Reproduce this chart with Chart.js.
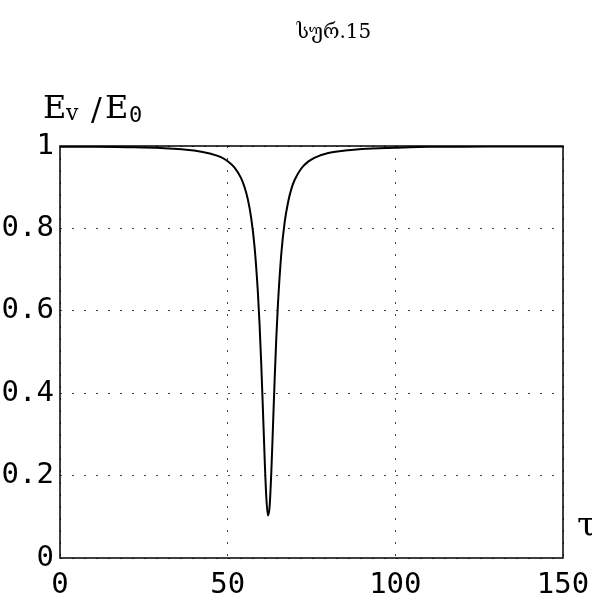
<!DOCTYPE html>
<html>
<head>
<meta charset="utf-8">
<script src="https://cdn.jsdelivr.net/npm/chart.js@4/dist/chart.umd.min.js"></script>
<style>
  html, body { margin: 0; padding: 0; background: #fff; }
  #wrap { width: 592px; height: 600px; position: relative; }
</style>
</head>
<body>
<div id="wrap"><canvas id="grafico"></canvas></div>
<script>
// valores (tau, Ev/E0)
const tau = [0, 10, 20, 30, 40, 45, 48, 50, 52, 54, 55, 56, 57, 58, 59, 59.5, 60, 60.5, 61, 61.5, 62, 62.5, 63, 63.5, 64, 64.5, 65, 66, 67, 68, 69, 70, 72, 74, 76, 80, 85, 90, 100, 110, 120, 135, 150];
const razao = [0.998, 0.998, 0.997, 0.995, 0.989, 0.981, 0.973, 0.963, 0.948, 0.922, 0.901, 0.871, 0.826, 0.757, 0.646, 0.569, 0.474, 0.363, 0.248, 0.151, 0.103, 0.124, 0.205, 0.316, 0.431, 0.533, 0.617, 0.739, 0.815, 0.863, 0.896, 0.918, 0.946, 0.962, 0.972, 0.983, 0.989, 0.993, 0.996, 0.998, 0.998, 0.999, 0.999];

const xTicks = [0, 50, 100, 150];
const yTicks = [0, 0.2, 0.4, 0.6, 0.8, 1];

const titulo = "სურ.15";

const pontos = tau.map((t, i) => ({ x: t, y: razao[i] }));

const serifa = "'DejaVu Serif', serif";

// moldura + textos
const extras = {
  id: "extras",
  afterDraw(chart) {
    const ctx = chart.ctx;
    const a = chart.chartArea;
    ctx.save();
    ctx.strokeStyle = "#000";
    ctx.lineWidth = 1.5;
    ctx.strokeRect(a.left, a.top, a.right - a.left, a.bottom - a.top);

    ctx.fillStyle = "#000";
    ctx.textBaseline = "alphabetic";

    ctx.font = "20px " + serifa;
    ctx.textAlign = "center";
    ctx.fillText(titulo, 334, 38);

    ctx.textAlign = "left";
    ctx.font = "32px " + serifa;
    ctx.fillText("E", 43, 118);
    ctx.font = "22px " + serifa;
    ctx.fillText("v", 66, 120);
    ctx.font = "32px " + serifa;
    ctx.fillText("/", 91, 120);
    ctx.fillText("E", 105, 118);
    ctx.font = "22px 'DejaVu Sans Mono'";
    ctx.fillText("0", 129, 122);

    ctx.font = "34px " + serifa;
    ctx.fillText("τ", 577, 536);
    ctx.restore();
  }
};

function desenhar() {
  new Chart(document.getElementById("grafico"), {
    type: "line",
    data: {
      datasets: [{
        data: pontos,
        borderColor: "#000",
        borderWidth: 2,
        pointRadius: 0,
        fill: false,
        cubicInterpolationMode: "monotone"
      }]
    },
    options: {
      responsive: true,
      maintainAspectRatio: false,
      animation: false,
      layout: { padding: { top: 146, right: 29, left: 0, bottom: 0 } },
      plugins: { legend: { display: false }, tooltip: { enabled: false } },
      scales: {
        x: {
          type: "linear",
          min: 0,
          max: 150,
          afterBuildTicks: s => { s.ticks = xTicks.map(v => ({ value: v })); },
          afterFit: s => { s.height = 42; s.paddingLeft = 0; s.paddingRight = 0; },
          ticks: { color: "#000", font: { family: "DejaVu Sans Mono", size: 29 }, padding: 10, maxRotation: 0, callback: v => String(v) },
          grid: { color: "#444", lineWidth: 1, drawTicks: false },
          border: { display: false, dash: [2, 10] }
        },
        y: {
          min: 0,
          max: 1,
          afterBuildTicks: s => { s.ticks = yTicks.map(v => ({ value: v })); },
          afterFit: s => { s.width = 60; s.paddingTop = 0; s.paddingBottom = 0; },
          ticks: { color: "#000", font: { family: "DejaVu Sans Mono", size: 29 }, padding: 6, callback: v => String(v) },
          grid: { color: "#444", lineWidth: 1, drawTicks: false },
          border: { display: false, dash: [2, 10] }
        }
      }
    },
    plugins: [extras]
  });
}

Promise.all([
  document.fonts.load("29px 'DejaVu Sans Mono'"),
  document.fonts.load("20px 'DejaVu Serif'", titulo)
]).then(desenhar, desenhar);
</script>
</body>
</html>
